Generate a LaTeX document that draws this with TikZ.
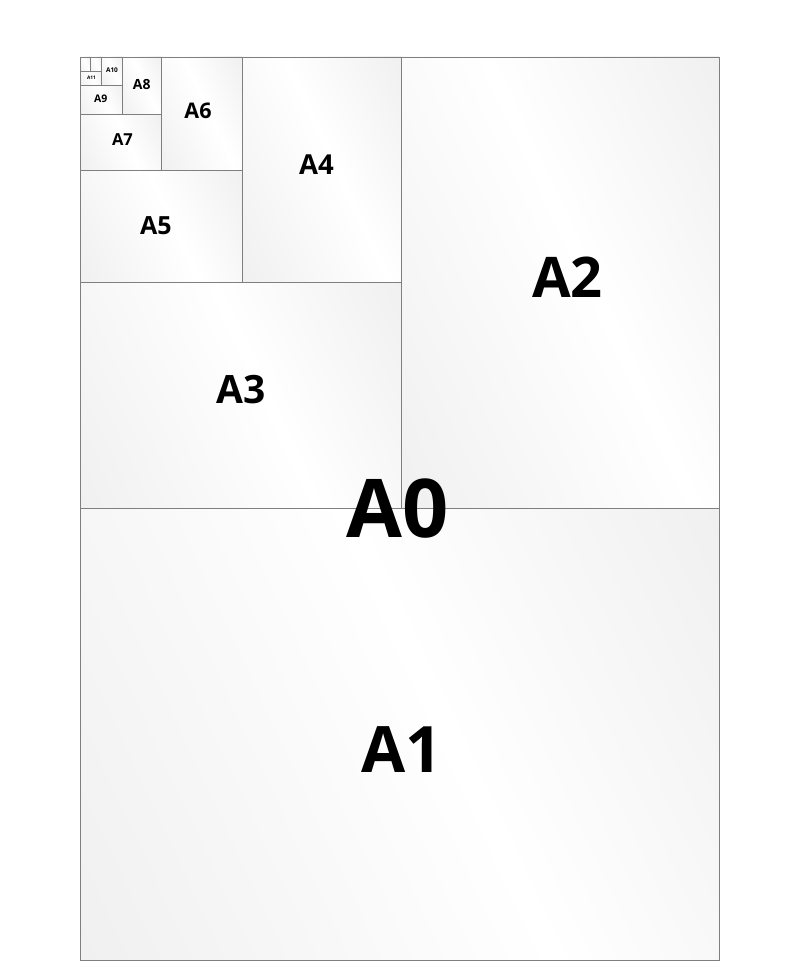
\documentclass[tikz,border=0pt]{standalone}
\usepackage{fontspec}
\setmainfont{Open Sans}
\usepackage{tikz}
\usetikzlibrary{calc}
\definecolor{sheetgray}{HTML}{F0F0F0}
\definecolor{sheetline}{HTML}{7F7F7F}
\pgfdeclarehorizontalshading{sheen}{100bp}{color(0bp)=(sheetgray); color(17bp)=(sheetgray); color(54bp)=(white); color(83bp)=(sheetgray); color(100bp)=(sheetgray)}
\tikzset{
	sheet/.style={draw=sheetline,line width=0.8pt,shading=sheen,shading angle=25},
	sizelabel/.style={inner sep=0pt,font=\bfseries}
}
\newcommand{\sizefont}[1]{\fontsize{#1}{#1}\selectfont}

\begin{document}
\begin{tikzpicture}[x=1pt,y=-1pt]
\useasboundingbox (0,0) rectangle (800,971);
\foreach \xa/\ya/\xb/\yb in {80/508.5/719/960, 401/57/719/508.5, 80/282/401/508.5, 242/57/401/282, 80/170/242/282, 161/57/242/170, 80/114/161/170, 122/57/161/114, 80/85/122/114, 101/57/122/85, 80/71/101/85, 90/57/101/71, 80/57/90/71}
	\shadedraw [sheet] (\xa,\ya) rectangle (\xb,\yb);
\draw [sheetline,line width=0.8pt] (80,57) rectangle (719,960);

\foreach \nm/\x/\y/\fs in {A0/398/509/81, A1/402/750/64, A2/567.5/277/56, A3/241/390/39, A4/316.5/165/27.5, A5/156/226/25, A6/198/110.5/21.5, A7/122.5/139.5/16.5, A8/141.7/84.7/14, A9/100.8/98.3/10.5, A10/112/70.5/6.5, A11/91.5/78/4.8}
	\node [sizelabel] (\nm) at (\x,\y) {\sizefont{\fs}\nm};
\end{tikzpicture}
\end{document}
